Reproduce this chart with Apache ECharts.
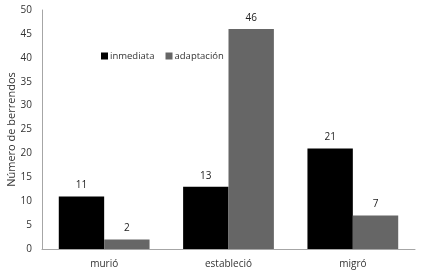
<!DOCTYPE html>
<html>
<head>
<meta charset="utf-8">
<script src="https://cdn.jsdelivr.net/npm/echarts@6/dist/echarts.min.js"></script>
<style>
  html, body { margin: 0; padding: 0; background: #fff; }
</style>
</head>
<body>
<div id="chart" style="width: 424px; height: 280px;"></div>
<script>
  var categories = ['murió', 'estableció', 'migró']
  var inmediata = [11, 13, 21]
  var adaptacion = [2, 46, 7]
  var seriesNames = ['inmediata', 'adaptación']

  var chart = echarts.init(document.getElementById('chart'))
  var font = 'Open Sans'
  var option = {
    animation: false,
    textStyle: { fontFamily: font },
    color: ['#000000', '#666666'],
    legend: {
      data: seriesNames,
      left: 96,
      top: 46,
      itemWidth: 7,
      itemHeight: 7,
      itemGap: 11,
      icon: 'rect',
      textStyle: { fontSize: 9.5, color: '#333', padding: [0, 0, 0, -3] }
    },
    grid: { left: 42, right: 9, top: 10, bottom: 31, outerBoundsMode: 'none' },
    xAxis: {
      type: 'category',
      data: categories,
      axisLine: { lineStyle: { color: '#a6a6a6' } },
      axisTick: { show: false },
      axisLabel: { fontSize: 10, color: '#333', margin: 10 }
    },
    yAxis: {
      type: 'value',
      min: 0,
      max: 50,
      interval: 5,
      name: 'Número de berrendos',
      nameLocation: 'middle',
      nameGap: 25,
      nameMoveOverlap: false,
      nameTextStyle: { fontSize: 11, color: '#333' },
      axisLine: { show: true, lineStyle: { color: '#a6a6a6' } },
      axisTick: { show: false },
      splitLine: { show: false },
      axisLabel: { fontSize: 10, color: '#333', margin: 10 }
    },
    series: [{
      name: seriesNames[0],
      type: 'bar',
      barCategoryGap: '27%',
      barGap: '0%',
      data: inmediata,
      label: { show: true, position: 'top', distance: 6, fontSize: 10, color: '#222' }
    }, {
      name: seriesNames[1],
      type: 'bar',
      barGap: '0%',
      data: adaptacion,
      label: { show: true, position: 'top', distance: 6, fontSize: 10, color: '#222' }
    }]
  }
  chart.setOption(option)
</script>
</body>
</html>
